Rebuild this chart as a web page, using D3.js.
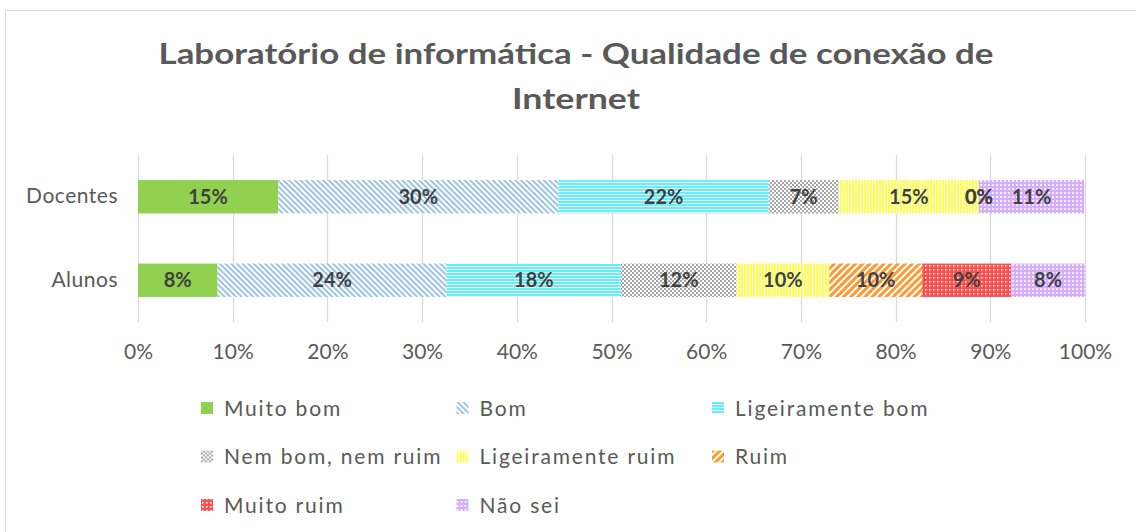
<!DOCTYPE html>
<html>
<head>
<meta charset="utf-8">
<script src="https://cdn.jsdelivr.net/npm/d3@7"></script>
<style>
  body { margin: 0; background: #fff; }
  svg { display: block; font-family: Lato, "Open Sans", sans-serif; }
</style>
</head>
<body>
<div id="chart"></div>
<script>
// chart data
var categories = ["Docentes", "Alunos"];
var seriesNames = ["Muito bom", "Bom", "Ligeiramente bom", "Nem bom, nem ruim",
                   "Ligeiramente ruim", "Ruim", "Muito ruim", "Não sei"];
var docentesValues = [14.8, 29.6, 22.2, 7.4, 14.8, 0, 0, 11.1];
var alunosValues = [8.4, 24.2, 18.4, 12.2, 9.8, 9.8, 9.4, 7.8];
var xTicks = [0, 10, 20, 30, 40, 50, 60, 70, 80, 90, 100];
var titleLines = ["Laboratório de informática - Qualidade de conexão de", "Internet"];
var titleWidths = [835, 128];

var W = 1136, H = 532;
var svg = d3.select("#chart").append("svg").attr("width", W).attr("height", H);

// chart border
svg.append("rect")
    .attr("x", 5.5).attr("y", 10.5)
    .attr("width", W).attr("height", H)
    .attr("fill", "#fff")
    .attr("stroke", "#d9d9d9");

// patterns (Excel-like fills)
var defs = svg.append("defs");

function pat(id, w, h, bg, rotate) {
    var p = defs.append("pattern")
        .attr("id", id)
        .attr("patternUnits", "userSpaceOnUse")
        .attr("width", w).attr("height", h);
    if (rotate) p.attr("patternTransform", "rotate(" + rotate + ")");
    p.append("rect").attr("width", w).attr("height", h).attr("fill", bg);
    return p;
}

var p;
p = pat("p-bom", 4, 4, "#fff", -45);
p.append("rect").attr("width", 2).attr("height", 4).attr("fill", "#9dc3e6");

p = pat("p-lbom", 3, 3, "#fff");
p.append("rect").attr("width", 3).attr("height", 2).attr("fill", "#5ef2fc");

p = pat("p-nem", 4, 4, "#fff");
p.append("rect").attr("width", 2).attr("height", 2).attr("fill", "#a6a6a6");
p.append("rect").attr("x", 2).attr("y", 2).attr("width", 2).attr("height", 2).attr("fill", "#a6a6a6");

p = pat("p-lruim", 3, 3, "#fff");
p.append("rect").attr("width", 2).attr("height", 3).attr("fill", "#ffff4d");

p = pat("p-ruim", 5, 5, "#fff", 45);
p.append("rect").attr("width", 3).attr("height", 5).attr("fill", "#ff9933");

p = pat("p-mruim", 4, 4, "#ff5050");
p.append("rect").attr("x", 1).attr("y", 1).attr("width", 1.6).attr("height", 1.6).attr("fill", "#fff0f0");

p = pat("p-nsei", 4, 4, "#d4adff");
p.append("rect").attr("x", 0).attr("y", 0).attr("width", 2).attr("height", 2).attr("fill", "#f6edff");

var fills = ["#92d050", "url(#p-bom)", "url(#p-lbom)", "url(#p-nem)",
             "url(#p-lruim)", "url(#p-ruim)", "url(#p-mruim)", "url(#p-nsei)"];

// title
svg.append("g").selectAll("text")
    .data(titleLines)
    .join("text")
    .attr("x", 576)
    .attr("y", function(d, i) { return 64 + i * 45; })
    .attr("text-anchor", "middle")
    .attr("font-size", 29)
    .attr("font-weight", "bold")
    .attr("fill", "#595959")
    .attr("textLength", function(d, i) { return titleWidths[i]; })
    .attr("lengthAdjust", "spacingAndGlyphs")
    .text(function(d) { return d; });

// scales
var x = d3.scaleLinear().domain([0, 100]).range([138, 1085]);
var y = d3.scaleBand().domain(categories).range([155, 322])
    .paddingInner(0.6).paddingOuter(0.3);

// gridlines
svg.append("g").selectAll("line")
    .data(xTicks)
    .join("line")
    .attr("x1", function(d) { return Math.round(x(d)) + 0.5; })
    .attr("x2", function(d) { return Math.round(x(d)) + 0.5; })
    .attr("y1", 155).attr("y2", 322)
    .attr("stroke", "#d9d9d9").attr("stroke-width", 1.3);

// x axis labels
var xAxis = d3.axisBottom(x).tickValues(xTicks)
    .tickFormat(function(d) { return d + "%"; })
    .tickSize(0).tickPadding(0);
var gx = svg.append("g").attr("transform", "translate(0,359)").call(xAxis);
gx.select(".domain").remove();
gx.selectAll("text")
    .attr("dy", 0)
    .attr("font-family", "Lato, sans-serif")
    .attr("font-size", 21)
    .attr("fill", "#595959");

// y axis labels
var yAxis = d3.axisLeft(y).tickSize(0).tickPadding(0);
var gy = svg.append("g").attr("transform", "translate(118,0)").call(yAxis);
gy.select(".domain").remove();
gy.selectAll("text")
    .attr("font-family", "Lato, sans-serif")
    .attr("font-size", 21)
    .attr("letter-spacing", 0.5)
    .attr("fill", "#595959");

// stacked bars
var rows = [docentesValues, alunosValues].map(function(vals, ci) {
    var acc = 0;
    return vals.map(function(v, si) {
        var seg = { cat: categories[ci], s: si, v: v, x0: acc, x1: acc + v };
        acc += v;
        return seg;
    });
});
var segs = d3.merge(rows);

svg.append("g").selectAll("rect")
    .data(segs)
    .join("rect")
    .attr("x", function(d) { return x(d.x0); })
    .attr("y", function(d) { return y(d.cat); })
    .attr("width", function(d) { return x(d.x1) - x(d.x0); })
    .attr("height", y.bandwidth())
    .attr("fill", function(d) { return fills[d.s]; });

svg.append("g").selectAll("text")
    .data(segs)
    .join("text")
    .attr("x", function(d) { return x((d.x0 + d.x1) / 2); })
    .attr("y", function(d) { return y(d.cat) + y.bandwidth() / 2; })
    .attr("dy", "0.36em")
    .attr("text-anchor", "middle")
    .attr("font-size", 20)
    .attr("font-weight", "bold")
    .attr("fill", "#404040")
    .text(function(d) { return Math.round(d.v) + "%"; });

// legend
var leg = svg.append("g").selectAll("g")
    .data(seriesNames)
    .join("g")
    .attr("transform", function(d, i) {
        return "translate(" + (201 + (i % 3) * 255.5) + "," + (408 + Math.floor(i / 3) * 48.5) + ")";
    });
leg.append("rect")
    .attr("x", 0).attr("y", -6)
    .attr("width", 12).attr("height", 12)
    .attr("fill", function(d, i) { return fills[i]; });
leg.append("text")
    .attr("x", 23).attr("y", 0)
    .attr("dy", "0.36em")
    .attr("font-size", 21)
    .attr("letter-spacing", 1.8)
    .attr("fill", "#595959")
    .text(function(d) { return d; });
</script>
</body>
</html>
